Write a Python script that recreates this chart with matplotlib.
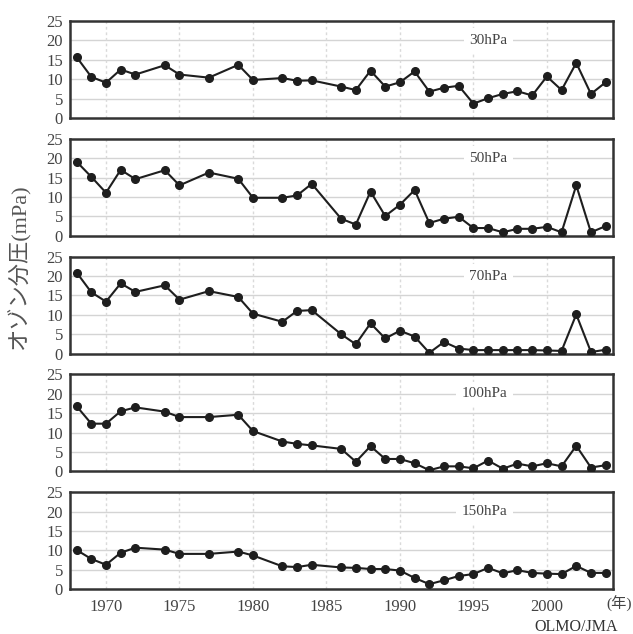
import matplotlib.pyplot as plt
from matplotlib.transforms import blended_transform_factory

# Annual ozone partial pressure at each level (mPa)
years = [1968, 1969, 1970, 1971, 1972, 1974, 1975, 1977, 1979, 1980,
         1982, 1983, 1984, 1986, 1987, 1988, 1989, 1990, 1991, 1992,
         1993, 1994, 1995, 1996, 1997, 1998, 1999, 2000, 2001, 2002,
         2003, 2004]

p30 = [15.7, 10.6, 9.1, 12.5, 11.2, 13.6, 11.2, 10.4, 13.7, 9.8,
       10.3, 9.6, 9.7, 8.1, 7.2, 12.2, 8.1, 9.2, 12.0, 6.8,
       7.8, 8.3, 3.7, 5.1, 6.2, 6.9, 5.8, 10.7, 7.2, 14.2,
       6.2, 9.2]
p50 = [19.1, 15.2, 11.1, 17.0, 14.6, 16.9, 13.0, 16.3, 14.7, 9.8,
       9.8, 10.4, 13.4, 4.4, 2.9, 11.4, 5.1, 8.0, 11.8, 3.3,
       4.4, 4.9, 2.0, 2.0, 0.9, 1.8, 1.8, 2.3, 0.9, 13.0,
       0.9, 2.5]
p70 = [20.9, 15.8, 13.4, 18.1, 15.9, 17.6, 13.9, 16.1, 14.6, 10.3,
       8.2, 11.0, 11.2, 5.0, 2.4, 7.8, 3.9, 5.9, 4.4, 0.2,
       3.0, 1.3, 0.9, 0.9, 0.9, 0.9, 0.9, 0.8, 0.7, 10.1,
       0.4, 1.0]
p100 = [16.8, 12.3, 12.3, 15.5, 16.5, 15.4, 14.0, 14.0, 14.6, 10.4,
        7.7, 7.1, 6.7, 5.8, 2.5, 6.5, 3.2, 3.2, 2.1, 0.3,
        1.3, 1.3, 0.8, 2.8, 0.7, 2.0, 1.3, 2.1, 1.3, 6.6,
        1.0, 1.6]
p150 = [10.1, 7.8, 6.3, 9.4, 10.7, 10.2, 9.1, 9.1, 9.7, 8.7,
        5.9, 5.7, 6.3, 5.6, 5.5, 5.2, 5.2, 4.8, 2.9, 1.3,
        2.3, 3.4, 3.9, 5.5, 4.1, 4.9, 4.2, 4.0, 3.9, 6.0,
        4.2, 4.2]

levels = ["30hPa", "50hPa", "70hPa", "100hPa", "150hPa"]
series = [p30, p50, p70, p100, p150]

yticks = [0, 5, 10, 15, 20, 25]
xticks = [1970, 1975, 1980, 1985, 1990, 1995, 2000]

serif = ["Liberation Serif", "Noto Sans CJK JP"]
text_color = "#444444"

W, H = 633, 634
fig = plt.figure(figsize=(W / 100, H / 100), dpi=100)
fig.patch.set_facecolor("white")

left, right = 70, 613
top0, panel_h, step = 21, 97, 117.8

axes = []
for i, (name, vals) in enumerate(zip(levels, series)):
    top = top0 + i * step
    ax = fig.add_axes([left / W, 1 - (top + panel_h) / H,
                       (right - left) / W, panel_h / H])
    ax.set_xlim(1967.55, 2004.5)
    ax.set_ylim(0, 25)

    for yv in yticks[1:-1]:
        ax.axhline(yv, color="#d4d4d4", lw=1.0, zorder=0)
    for xv in xticks:
        ax.axvline(xv, color="#dadada", lw=1.0, ls=(0, (2, 2)), zorder=0)

    ax.plot(years, vals, color="#1e1e1e", lw=1.5, marker="o",
            markersize=5.5, zorder=3)

    ax.text(1997.3, 20, name, ha="right", va="center", fontsize=11,
            family=serif, color=text_color, zorder=2,
            bbox=dict(facecolor="white", edgecolor="none", pad=4))

    ax.set_yticks(yticks)
    ax.set_yticklabels([str(v) for v in yticks], family=serif,
                       fontsize=12, color=text_color)
    ax.set_xticks(xticks)
    if i == len(levels) - 1:
        ax.set_xticklabels([str(v) for v in xticks], family=serif,
                           fontsize=12, color=text_color)
    else:
        ax.set_xticklabels([])
    ax.tick_params(length=0, pad=5)
    ax.tick_params(axis="x", pad=7)

    for sp in ax.spines.values():
        sp.set_color("#333333")
        sp.set_linewidth(1.8)
    axes.append(ax)

bottom_ax = axes[-1]
trans = blended_transform_factory(bottom_ax.transData, fig.transFigure)
bottom_ax.text(2004.9, 1 - 604 / H, "(年)", transform=trans, ha="center",
               va="center", fontsize=11, family=serif, color=text_color,
               clip_on=False)

fig.text(576 / W, 1 - 627 / H, "OLMO/JMA", ha="center", va="center",
         fontsize=11.5, family=serif, color="#333333")

fig.text(19 / W, 1 - 267 / H, "オゾン分圧(mPa)", rotation=90,
         ha="center", va="center", fontsize=16, family=serif,
         color="#555555")

fig.savefig("out.png", dpi=100)
